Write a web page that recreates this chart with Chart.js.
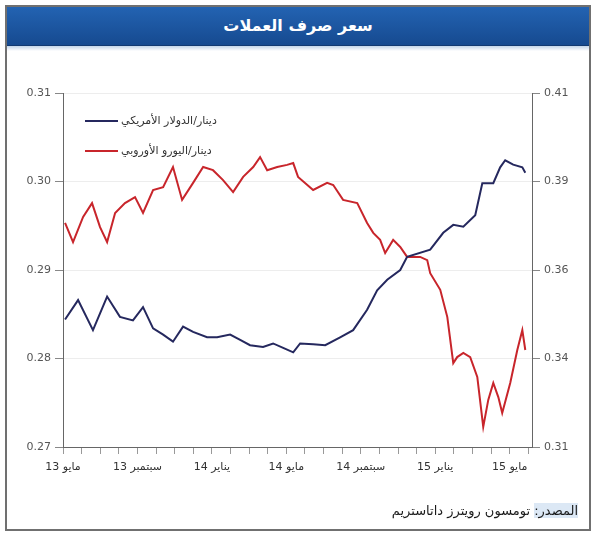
<!DOCTYPE html>
<html><head><meta charset="utf-8">
<script src="https://cdn.jsdelivr.net/npm/chart.js@4"></script>
<style>
html,body{margin:0;padding:0;background:#fff;}
#wrap{position:relative;width:593px;height:535px;overflow:hidden;font-family:"DejaVu Sans",sans-serif;}
#frame{position:absolute;left:5px;top:5px;width:582px;height:522px;border:2px solid #707070;}
#title{position:absolute;left:7px;top:7px;width:582px;height:38px;background:linear-gradient(#2363b2,#164a90);border-bottom:1px solid #123a72;color:#fff;font-weight:bold;font-size:16px;text-align:center;line-height:37px;direction:rtl;}
#strip{position:absolute;left:7px;top:46px;width:582px;height:5px;background:linear-gradient(#c3d5ea,#fff);}
#source{position:absolute;right:15px;top:503px;font-size:13px;color:#1a1a1a;direction:rtl;white-space:nowrap;}
#source span{background:#dce8f5;}
canvas{position:absolute;left:0;top:0;}
</style></head>
<body><div id="wrap">
<div id="frame"></div>
<div id="title">سعر صرف العملات</div>
<div id="strip"></div>
<canvas id="c" width="593" height="535" dir="rtl"></canvas>
<div id="source"><span>المصدر:</span> تومسون رويترز داتاستريم</div>
</div>
<script>
const monthLabels = ['مايو 13','سبتمبر 13','يناير 14','مايو 14','سبتمبر 14','يناير 15','مايو 15'];
const leftTickValues = [0.27,0.28,0.29,0.30,0.31];
const leftTickLabels = ['0.27','0.28','0.29','0.30','0.31'];
const rightTickValues = [0.31,0.335,0.36,0.385,0.41];
const rightTickLabels = ['0.31','0.34','0.36','0.39','0.41'];
const seriesNames = ['دينار/الدولار الأمريكي','دينار/اليورو الأوروبي'];

// months since start of May 2013
const usdMonths = [0.11,0.81,1.61,2.37,3.06,3.76,4.30,4.84,5.38,5.91,6.45,6.99,7.74,8.28,8.98,9.52,10.05,10.75,11.29,11.83,12.37,12.74,13.44,14.09,14.89,15.59,16.34,16.88,17.42,18.12,18.49,19.73,20.43,20.97,21.51,22.15,22.53,23.12,23.49,23.76,24.19,24.68,24.84];
const usdValues = [0.2844,0.2866,0.2832,0.2870,0.2847,0.2843,0.2858,0.2834,0.2827,0.2819,0.2836,0.2830,0.2824,0.2824,0.2827,0.2821,0.2815,0.2813,0.2817,0.2812,0.2807,0.2817,0.2816,0.2815,0.2824,0.2832,0.2855,0.2877,0.2889,0.2900,0.2915,0.2923,0.2942,0.2951,0.2949,0.2962,0.2998,0.2998,0.3016,0.3024,0.3019,0.3016,0.3010];

const eurMonths = [0.11,0.54,1.08,1.56,1.99,2.37,2.80,3.33,3.87,4.30,4.84,5.38,5.91,6.40,6.99,7.53,8.06,8.60,9.14,9.68,10.22,10.59,10.97,11.51,12.04,12.37,12.63,13.44,14.19,14.52,15.05,15.81,16.34,16.67,17.04,17.31,17.74,18.12,18.49,19.19,19.57,19.73,20.27,20.65,20.97,21.18,21.51,21.88,22.26,22.58,22.85,23.12,23.39,23.60,24.03,24.41,24.68,24.84];
const eurValues = [0.3733,0.3679,0.3750,0.3789,0.3721,0.3679,0.3761,0.3789,0.3806,0.3761,0.3826,0.3834,0.3891,0.3798,0.3846,0.3891,0.3882,0.3854,0.3820,0.3863,0.3891,0.3919,0.3882,0.3891,0.3897,0.3902,0.3863,0.3826,0.3846,0.3840,0.3798,0.3789,0.3733,0.3705,0.3685,0.3648,0.3685,0.3665,0.3637,0.3637,0.3628,0.3591,0.3544,0.3467,0.3337,0.3354,0.3366,0.3354,0.3298,0.3157,0.3233,0.3281,0.3241,0.3196,0.3281,0.3374,0.3430,0.3374];

const pts = (xs, ys) => xs.map((x, i) => ({x, y: ys[i]}));
const FONT = '"DejaVu Sans", sans-serif';

const insideLegend = {
  id: 'insideLegend',
  afterDraw(chart) {
    const ctx = chart.ctx, a = chart.chartArea;
    chart.data.datasets.forEach((ds, i) => {
      const y = a.top + 28 + i * 30;
      ctx.save();
      ctx.strokeStyle = ds.borderColor;
      ctx.lineWidth = 2;
      ctx.beginPath();
      ctx.moveTo(a.left + 22, y);
      ctx.lineTo(a.left + 55, y);
      ctx.stroke();
      ctx.fillStyle = '#333';
      ctx.font = '11px ' + FONT;
      ctx.textAlign = 'left';
      ctx.textBaseline = 'middle';
      ctx.fillText(ds.label, a.left + 58, y);
      ctx.restore();
    });
  }
};

new Chart(document.getElementById('c'), {
  type: 'line',
  data: {
    datasets: [
      {label: seriesNames[0], data: pts(usdMonths, usdValues), yAxisID: 'y', borderColor: '#25285e', borderWidth: 2, pointRadius: 0, tension: 0},
      {label: seriesNames[1], data: pts(eurMonths, eurValues), yAxisID: 'y1', borderColor: '#c8252b', borderWidth: 2, pointRadius: 0, tension: 0}
    ]
  },
  options: {
    responsive: false,
    animation: false,
    layout: {padding: {top: 93, left: 0, right: 0, bottom: 0}},
    plugins: {legend: {display: false}, tooltip: {enabled: false}},
    scales: {
      x: {
        type: 'linear', min: 0, max: 25.2,
        afterBuildTicks: s => { const t = []; for (let i = 0; i <= 25; i++) t.push({value: i}); s.ticks = t; },
        afterFit: s => { s.height = 88; },
        ticks: {autoSkip: false, maxRotation: 0, padding: 7, color: '#333', font: {size: 11, family: FONT},
          callback: v => (v % 4 === 0 ? monthLabels[v / 4] : '')},
        grid: {drawOnChartArea: false, drawTicks: true, tickLength: 7, tickColor: '#999'},
        border: {display: true, color: '#666', width: 1}
      },
      y: {
        position: 'left', min: 0.27, max: 0.31,
        afterBuildTicks: s => { s.ticks = leftTickValues.map(v => ({value: v})); },
        afterFit: s => { s.width = 63; },
        ticks: {padding: 4, color: '#555', font: {size: 11, family: FONT}, callback: (v, i) => leftTickLabels[i]},
        grid: {color: '#ededed', tickColor: '#888', tickLength: 8},
        border: {display: true, color: '#666', width: 1}
      },
      y1: {
        position: 'right', min: 0.31, max: 0.41,
        afterBuildTicks: s => { s.ticks = rightTickValues.map(v => ({value: v})); },
        afterFit: s => { s.width = 61; },
        ticks: {padding: 4, color: '#555', font: {size: 11, family: FONT}, callback: (v, i) => rightTickLabels[i]},
        grid: {drawOnChartArea: false, tickColor: '#888', tickLength: 8},
        border: {display: true, color: '#666', width: 1}
      }
    }
  },
  plugins: [insideLegend]
});
</script>
</body></html>
